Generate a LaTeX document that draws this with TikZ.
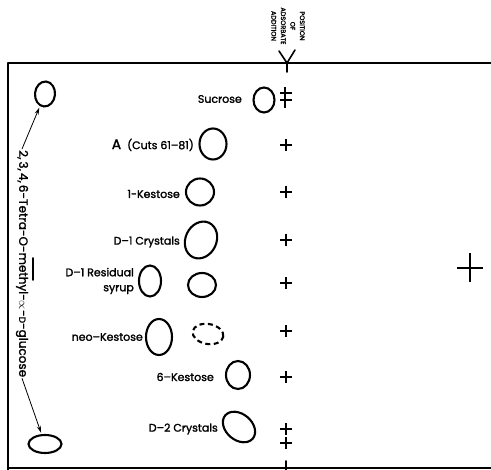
\documentclass[tikz,border=0pt]{standalone}
\usepackage{fontspec}
\setmainfont{Poppins}[UprightFeatures={FakeBold=1.6}]
\usetikzlibrary{shapes.geometric,arrows.meta}
\begin{document}
\begin{tikzpicture}[x=1pt,y=-1pt,
  ink/.style={line width=1.6pt, line cap=round, line join=round},
  spot/.style={draw, ellipse, line width=2.1pt, inner sep=0pt},
  lbl/.style={anchor=east, inner sep=0pt, font=\fontsize{11}{15}\selectfont},
  arr/.style={line width=0.8pt, -{Stealth[length=7pt,width=4pt]}, shorten >=1.5pt},
  plusmark/.pic={\draw[line width=1.7pt] (-6,0)--(6,0) (0,-6)--(0,6);},
  bigplus/.pic={\draw[line width=1.6pt] (-13,0)--(13,0) (0,-14.5)--(0,14.5);}]
\useasboundingbox (0,0) rectangle (491,470);
% frame
\coordinate (tl) at (8,63);
\coordinate (tr) at (491,63);
\coordinate (bl) at (8,470);
\coordinate (bl2) at (8,468);
\coordinate (br) at (491,468);
\draw[ink] (tr) -- (tl) -- (bl);
\draw[ink] (bl2) -- (br);
% position of adsorbate addition
\node[rotate=-90, align=center, inner sep=0pt, font=\fontsize{6.5}{9.5}\selectfont] (pos) at (288,26) {POSITION\\OF\\ADSORBATE\\ADDITION};
\coordinate (yv) at (287,63);
\coordinate (ya) at (279,51);
\coordinate (yb) at (295,50);
\coordinate (ys) at (287,72);
\draw[ink] (ya) -- (yv) -- (yb);
\draw[ink] (yv) -- (ys);
\coordinate (bt1) at (286,461);
\coordinate (bt2) at (286,470);
\draw[ink] (bt1) -- (bt2);
% left column
\node[spot, minimum width=20pt, minimum height=25pt, rotate=-5] (t1) at (45,94) {};
\node[spot, minimum width=33pt, minimum height=18pt] (t2) at (45,444) {};
\node[rotate=-90, anchor=west, inner sep=1pt, font=\fontsize{12}{14}\selectfont] (glc) at (22,149) {2,\,3,\,4,\,6-Tetra-O-methyl-$\propto$-{\fontsize{9}{10}\selectfont D}-glucose};
\draw[arr] (glc.west) -- (t1);
\draw[arr] (glc.east) -- (t2);
\coordinate (bar1) at (33,258);
\coordinate (bar2) at (33,280);
\draw[ink] (bar1) -- (bar2);
% spots and labels
\node[spot, minimum width=21pt, minimum height=25pt] (suc) at (264,100) {};
\node[lbl] (lsuc) at (242,99) {Sucrose};
\node[spot, minimum width=27pt, minimum height=31pt] (sa) at (213,144) {};
\node[lbl] (la) at (194,145) {{\fontsize{14}{16}\selectfont A}\hspace{6pt}(Cuts 61–81)};
\node[spot, minimum width=28pt, minimum height=27pt] (k1) at (200,192) {};
\node[lbl] (lk1) at (180,194) {1-Kestose};
\node[spot, minimum width=31pt, minimum height=38pt, rotate=-25] (d1) at (201,240) {};
\node[lbl] (ld1) at (180,242) {D–1 Crystals};
\node[spot, minimum width=22pt, minimum height=31pt] (r1) at (150,281) {};
\node[spot, minimum width=28pt, minimum height=24pt] (r2) at (202,285) {};
\node[lbl, align=right] (lr) at (134,281) {D–1 Residual\\syrup};
\node[spot, minimum width=26pt, minimum height=36pt] (nk) at (159,337) {};
\node[spot, dashed, dash pattern=on 5pt off 3.5pt, minimum width=31pt, minimum height=20pt, rotate=-10] (nk2) at (208,334) {};
\node[lbl] (lnk) at (143,337) {neo–Kestose};
\node[spot, minimum width=24pt, minimum height=28pt] (k6) at (238,375) {};
\node[lbl] (lk6) at (214,377) {6–Kestose};
\node[spot, minimum width=36pt, minimum height=26pt, rotate=-40] (d2) at (239,427) {};
\node[lbl] (ld2) at (218,429) {D–2 Crystals};
% origin marks
\coordinate (dc1) at (285,87);
\coordinate (dc2) at (285,108);
\coordinate (dc3) at (280,93);
\coordinate (dc4) at (292,93);
\coordinate (dc5) at (280,100);
\coordinate (dc6) at (292,100);
\draw[line width=1.7pt] (dc1) -- (dc2) (dc3) -- (dc4) (dc5) -- (dc6);
\foreach \yy in {145,192,240,283,331,377,429,443} \pic at (286,\yy) {plusmark};
\pic at (470,268) {bigplus};
\end{tikzpicture}
\end{document}
